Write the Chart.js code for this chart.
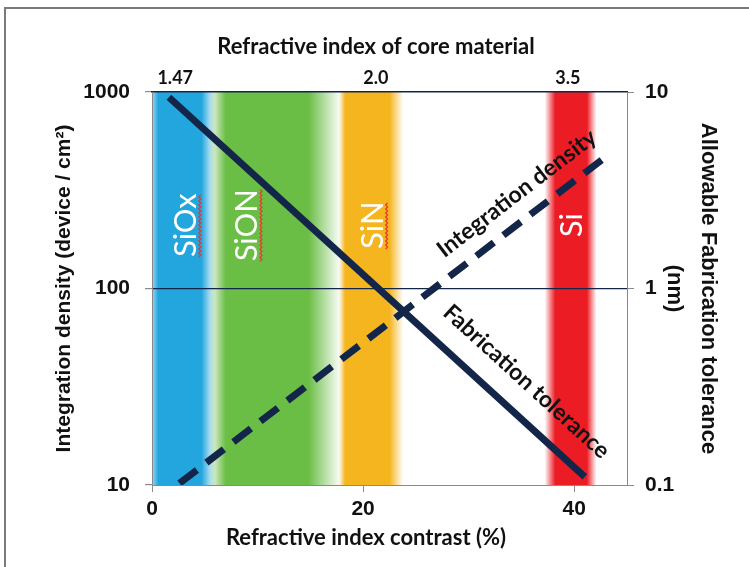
<!DOCTYPE html>
<html>
<head>
<meta charset="utf-8">
<script src="https://cdn.jsdelivr.net/npm/chart.js@4.4.1/dist/chart.umd.min.js"></script>
<style>
  html, body { margin: 0; padding: 0; background: #fff; }
  #wrap { position: relative; width: 749px; height: 567px; }
  #frame { position: absolute; left: 4px; top: 7px; right: 0; bottom: 0;
           border-left: 2px solid #7a7a7a; border-top: 2px solid #7a7a7a; pointer-events: none; }
</style>
</head>
<body>
<div id="wrap">
  <canvas id="chart" width="749" height="567"></canvas>
  <div id="frame"></div>
</div>
<script>
// bottom axis: refractive index contrast (%)
const xTicks = [0, 20, 40];
// top axis: core refractive index, placed on the contrast axis
const coreIndexLabels = ['1.47', '2.0', '3.5'];
const coreIndexAt = [2.2, 21.2, 39.4];
const densityTicks = [10, 100, 1000];
const toleranceTicks = [0.1, 1, 10];

// material bands (contrast %)
const materials = ['SiOx', 'SiON', 'SiN', 'Si'];
const bandStart = [0, 5.4, 17.7, 37.2];
const bandCoreStart = [0.6, 7.0, 18.3, 38.2];
const bandCoreEnd = [4.7, 14.8, 22.5, 41.2];
const bandEnd = [6.0, 17.9, 23.8, 42.1];
const bandLabelX = [3.2, 9.0, 20.9, 39.8];
const bandLabelY = 210; // on density axis

// the two trend lines
const densityX = [2.6, 42.6];
const densityY = [10.2, 451];
const toleranceX = [1.6, 41.0];
const toleranceY = [9.4, 0.11];

const bandColors = ['35,166,222', '106,189,69', '245,181,31', '236,28,36'];
const bandEdgeAlpha = [0.45, 0, 0, 0];
const spellMark = [true, true, true, false];
const navy = '#13264a';
const axisGray = '#8a8a8a';
const arial = "'Liberation Sans', Arial, sans-serif";

const bandsPlugin = {
  id: 'bands',
  beforeDraw(chart) {
    const { ctx, chartArea: a, scales } = chart;
    const x = scales.x;
    ctx.save();
    ctx.beginPath();
    ctx.rect(a.left, a.top, a.right - a.left, a.bottom - a.top);
    ctx.clip();
    materials.forEach((m, i) => {
      const x0 = x.getPixelForValue(bandStart[i]);
      const x1 = x.getPixelForValue(bandEnd[i]);
      const w = x1 - x0;
      const c = bandColors[i];
      const g = ctx.createLinearGradient(x0, 0, x1, 0);
      g.addColorStop(0, `rgba(${c},${bandEdgeAlpha[i]})`);
      g.addColorStop((x.getPixelForValue(bandCoreStart[i]) - x0) / w, `rgba(${c},1)`);
      g.addColorStop((x.getPixelForValue(bandCoreEnd[i]) - x0) / w, `rgba(${c},1)`);
      g.addColorStop(1, `rgba(${c},0)`);
      ctx.fillStyle = g;
      ctx.fillRect(x0, a.top, w, a.bottom - a.top);
    });
    ctx.restore();
  },
  afterDraw(chart) {
    const { ctx, scales } = chart;
    ctx.save();
    ctx.font = "31px Lato, 'Open Sans', sans-serif";
    ctx.textAlign = 'center';
    ctx.textBaseline = 'middle';
    const yc = scales.y.getPixelForValue(bandLabelY);
    materials.forEach((m, i) => {
      const xc = scales.x.getPixelForValue(bandLabelX[i]);
      ctx.save();
      ctx.translate(xc, yc);
      ctx.rotate(-Math.PI / 2);
      ctx.fillStyle = '#fff';
      ctx.fillText(m, 0, 0);
      if (spellMark[i]) {
        const w = ctx.measureText(m).width;
        ctx.strokeStyle = '#e8382c';
        ctx.lineWidth = 1.2;
        ctx.beginPath();
        for (let t = -w / 2, k = 0; t <= w / 2; t += 2, k++) {
          const yy = 13 + (k % 2 ? 2 : 0);
          if (k === 0) ctx.moveTo(t, yy); else ctx.lineTo(t, yy);
        }
        ctx.stroke();
      }
      ctx.restore();
    });
    ctx.restore();
  }
};

const labelsPlugin = {
  id: 'lineLabels',
  afterDatasetsDraw(chart) {
    const { ctx, scales } = chart;
    const x = scales.x;
    const items = [
      { text: 'Integration density', xs: densityX, ys: densityY, sc: scales.y, at: 36.0, off: 25 },
      { text: 'Fabrication tolerance', xs: toleranceX, ys: toleranceY, sc: scales.y2, at: 33.5, off: 31 }
    ];
    ctx.save();
    ctx.font = "bold 23px Lato, 'Open Sans', sans-serif";
    ctx.fillStyle = '#111';
    ctx.textAlign = 'center';
    ctx.textBaseline = 'middle';
    items.forEach(it => {
      const px0 = x.getPixelForValue(it.xs[0]), py0 = it.sc.getPixelForValue(it.ys[0]);
      const px1 = x.getPixelForValue(it.xs[1]), py1 = it.sc.getPixelForValue(it.ys[1]);
      const ang = Math.atan2(py1 - py0, px1 - px0);
      const px = x.getPixelForValue(it.at);
      const py = py0 + (py1 - py0) * (px - px0) / (px1 - px0);
      ctx.save();
      ctx.translate(px + it.off * Math.sin(ang), py - it.off * Math.cos(ang));
      ctx.rotate(ang);
      ctx.fillText(it.text, 0, 0);
      ctx.restore();
    });
    ctx.restore();
  }
};

const titlesPlugin = {
  id: 'xTitles',
  afterDraw(chart) {
    const { ctx, chartArea: a } = chart;
    ctx.save();
    ctx.font = "bold 22px Lato, 'Open Sans', sans-serif";
    ctx.fillStyle = '#111';
    ctx.textAlign = 'center';
    ctx.textBaseline = 'middle';
    ctx.fillText('Refractive index of core material', a.left + 224, 47);
    ctx.fillText('Refractive index contrast (%)', a.left + 214, 538);
    ctx.restore();
  }
};

new Chart(document.getElementById('chart'), {
  type: 'scatter',
  data: {
    datasets: [
      {
        label: 'Integration density',
        data: densityX.map((v, i) => ({ x: v, y: densityY[i] })),
        yAxisID: 'y',
        showLine: true,
        borderColor: navy,
        borderWidth: 7,
        borderDash: [22, 12],
        borderCapStyle: 'butt',
        pointRadius: 0
      },
      {
        label: 'Fabrication tolerance',
        data: toleranceX.map((v, i) => ({ x: v, y: toleranceY[i] })),
        yAxisID: 'y2',
        showLine: true,
        borderColor: navy,
        borderWidth: 7,
        pointRadius: 0
      }
    ]
  },
  options: {
    responsive: false,
    animation: false,
    layout: { padding: 0 },
    plugins: { legend: { display: false }, tooltip: { enabled: false } },
    scales: {
      x: {
        type: 'linear', position: 'bottom', min: 0, max: 45,
        afterBuildTicks: s => { s.ticks = xTicks.map(v => ({ value: v })); },
        afterFit: s => { s.height = 82; },
        grid: { drawOnChartArea: false, color: axisGray, tickLength: 7 },
        border: { color: axisGray },
        ticks: { color: '#111', padding: 5, font: { family: arial, size: 21, weight: 'bold' } }
      },
      x2: {
        type: 'linear', position: 'top', min: 0, max: 45,
        afterBuildTicks: s => { s.ticks = coreIndexAt.map(v => ({ value: v })); },
        afterFit: s => { s.height = 92; },
        grid: { drawOnChartArea: false, drawTicks: false },
        border: { color: navy, width: 1.5 },
        ticks: {
          color: '#111', padding: 3, autoSkip: false, maxRotation: 0,
          font: { family: "Lato, 'Open Sans', sans-serif", size: 18, weight: 'bold' },
          callback: (v, i) => coreIndexLabels[i]
        }
      },
      y: {
        type: 'logarithmic', position: 'left', min: 10, max: 1000,
        afterBuildTicks: s => { s.ticks = densityTicks.map(v => ({ value: v })); },
        afterFit: s => { s.width = 152; },
        grid: {
          color: c => (c.tick && c.tick.value === 100 ? navy : 'rgba(0,0,0,0)'),
          tickColor: axisGray, tickLength: 7, lineWidth: 1.2
        },
        border: { color: axisGray },
        ticks: { color: '#111', padding: 15, font: { family: arial, size: 21, weight: 'bold' }, callback: v => String(v) },
        title: {
          display: true, text: 'Integration density (device / cm²)', color: '#111',
          padding: { top: 52, bottom: 0 },
          font: { family: arial, size: 21, weight: 'bold' }
        }
      },
      y2: {
        type: 'logarithmic', position: 'right', min: 0.1, max: 10,
        afterBuildTicks: s => { s.ticks = toleranceTicks.map(v => ({ value: v })); },
        afterFit: s => { s.width = 122; },
        grid: { drawOnChartArea: false, color: axisGray, tickLength: 7 },
        border: { color: axisGray },
        ticks: { color: '#111', padding: 11, font: { family: arial, size: 21, weight: 'bold' }, callback: v => String(v) },
        title: {
          display: true, text: ['Allowable Fabrication tolerance', '(nm)'], color: '#111',
          padding: { top: 24, bottom: 0 },
          font: { family: arial, size: 22, weight: 'bold', lineHeight: 1.55 }
        }
      }
    }
  },
  plugins: [bandsPlugin, labelsPlugin, titlesPlugin]
});
</script>
</body>
</html>
